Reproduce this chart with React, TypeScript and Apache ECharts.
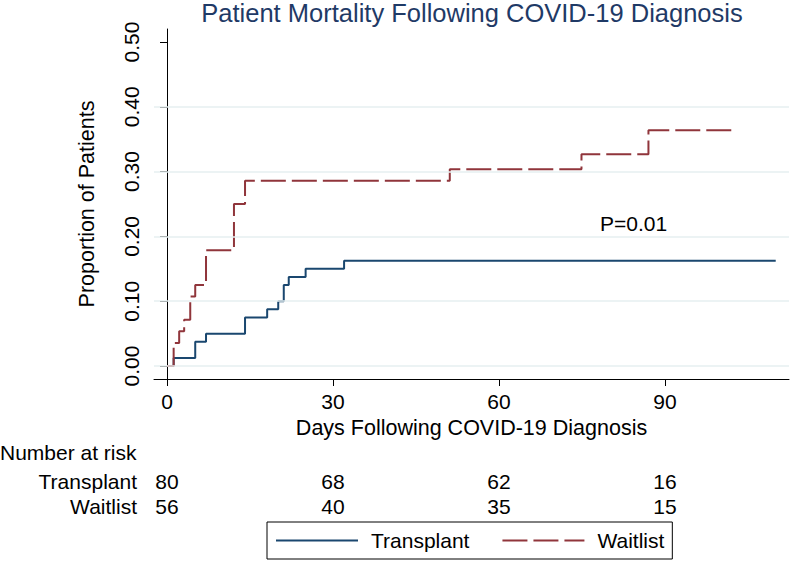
import React, { useEffect, useRef } from "react";
import * as echarts from "echarts";

const transplantDays = [0, 1.2, 5.1, 7.05, 14.1, 18.1, 20.1, 21.1, 22, 25.05, 32, 110];
const transplantProp = [0, 0.0125, 0.0375, 0.05, 0.075, 0.0875, 0.1, 0.125, 0.1375, 0.15, 0.1625, 0.1625];
const waitlistDays = [0, 1.2, 2.2, 3.1, 4.2, 5.1, 7.05, 12.1, 14.1, 51.1, 74.9, 87, 103];
const waitlistProp = [0, 0.0357, 0.0536, 0.0714, 0.1071, 0.125, 0.1786, 0.25, 0.2857, 0.3035, 0.3267, 0.3637, 0.3637];

const xTicks = [0, 30, 60, 90];
const yTicks = [0, 0.1, 0.2, 0.3, 0.4, 0.5];
const gridValues = [0, 0.1, 0.2, 0.3, 0.4];

const riskDays = [0, 30, 60, 90];
const riskGroups = ["Waitlist", "Transplant"];
const transplantRisk = [80, 68, 62, 16];
const waitlistRisk = [56, 40, 35, 15];

const FONT = "'Liberation Sans', Arial, Helvetica, sans-serif";
const BLUE = "#1a476f";
const RED = "#90353b";
const FS = 21;

export default function App() {
  const ref = useRef<HTMLDivElement>(null);
  useEffect(() => {
    if (!ref.current) return;
    const chart = echarts.init(ref.current, null, { renderer: "svg" });
    const xMin = -2.35;
    const xMax = 112.4;
    const riskLabel = {
      show: true,
      position: "inside",
      fontSize: FS,
      color: "#000",
      fontFamily: FONT,
      formatter: (p: any) => String(p.data.n),
    };
    chart.setOption({
      animation: false,
      backgroundColor: "#ffffff",
      textStyle: { fontFamily: FONT },
      title: {
        text: "Patient Mortality Following COVID-19 Diagnosis",
        left: 467,
        top: -5,
        textAlign: "center",
        textStyle: { fontSize: 25.5, fontWeight: "normal", color: "#1f3a66", fontFamily: FONT },
      },
      legend: {
        data: [
          { name: "Transplant", itemStyle: { opacity: 0 } },
          { name: "Waitlist", itemStyle: { opacity: 0 } },
        ],
        left: 267,
        top: 522,
        itemWidth: 82,
        itemHeight: 14,
        itemGap: 32,
        padding: [8, 8, 8, 8],
        borderColor: "#000",
        borderWidth: 1,
        itemStyle: { opacity: 0 },
        textStyle: { fontSize: FS, color: "#000", fontFamily: FONT, padding: [0, 0, 0, 8] },
      },
      grid: [
        { left: 154, right: 1, top: 29, height: 350 },
        { left: 154, right: 1, top: 468.5, height: 50 },
      ],
      xAxis: [
        {
          type: "value",
          gridIndex: 0,
          min: xMin,
          max: xMax,
          name: "Days Following COVID-19 Diagnosis",
          nameLocation: "middle",
          nameGap: 34,
          nameTextStyle: { fontSize: 21.5, color: "#000", fontFamily: FONT },
          axisLine: { show: true, onZero: false, lineStyle: { color: "#000", width: 1 } },
          axisTick: { show: true, length: 7, customValues: xTicks, lineStyle: { color: "#000" } },
          axisLabel: { customValues: xTicks, fontSize: FS, color: "#000", margin: 12, fontFamily: FONT },
          splitLine: { show: false },
        },
        {
          type: "value",
          gridIndex: 1,
          min: xMin,
          max: xMax,
          show: false,
        },
      ],
      yAxis: [
        {
          type: "value",
          gridIndex: 0,
          min: -0.02,
          max: 0.52,
          name: "Proportion of Patients",
          nameLocation: "middle",
          nameGap: 56,
          nameTextStyle: { fontSize: 21.5, color: "#000", fontFamily: FONT },
          axisLine: { show: true, lineStyle: { color: "#000", width: 1 } },
          axisTick: { show: true, length: 7, customValues: yTicks, lineStyle: { color: "#000" } },
          axisLabel: {
            customValues: yTicks,
            rotate: 90,
            fontSize: FS,
            color: "#000",
            margin: 12,
            fontFamily: FONT,
            formatter: (v: number) => v.toFixed(2),
          },
          splitLine: { show: false },
        },
        {
          type: "category",
          gridIndex: 1,
          data: riskGroups,
          axisLine: { show: false },
          axisTick: { show: false },
          axisLabel: { interval: 0, fontSize: FS, color: "#000", margin: 17, fontFamily: FONT },
          splitLine: { show: false },
        },
      ],
      graphic: [
        {
          type: "text",
          left: 0,
          top: 442,
          style: { text: "Number at risk", fontSize: FS, fill: "#000", fontFamily: FONT },
        },
        {
          type: "text",
          left: 600,
          top: 213,
          style: { text: "P=0.01", fontSize: FS, fill: "#000", fontFamily: FONT },
        },
      ],
      series: [
        {
          name: "grid",
          type: "line",
          data: [],
          z: 1,
          silent: true,
          markLine: {
            silent: true,
            symbol: "none",
            label: { show: false },
            lineStyle: { color: "#e6eff1", width: 1.5, type: "solid" },
            data: gridValues.map((v) => ({ yAxis: v })),
          },
        },
        {
          name: "Transplant",
          type: "line",
          step: "end",
          symbol: "none",
          z: 3,
          color: BLUE,
          lineStyle: { color: BLUE, width: 2 },
          data: transplantDays.map((d, i) => [d, transplantProp[i]]),
        },
        {
          name: "Waitlist",
          type: "line",
          step: "end",
          symbol: "none",
          z: 4,
          color: RED,
          lineStyle: { color: RED, width: 2, type: [25, 6] },
          data: waitlistDays.map((d, i) => [d, waitlistProp[i]]),
        },
        {
          name: "riskT",
          type: "scatter",
          xAxisIndex: 1,
          yAxisIndex: 1,
          symbolSize: 0,
          silent: true,
          itemStyle: { opacity: 1 },
          label: riskLabel,
          data: transplantRisk.map((n, i) => ({ value: [riskDays[i], "Transplant"], n })),
        },
        {
          name: "riskW",
          type: "scatter",
          xAxisIndex: 1,
          yAxisIndex: 1,
          symbolSize: 0,
          silent: true,
          itemStyle: { opacity: 1 },
          label: riskLabel,
          data: waitlistRisk.map((n, i) => ({ value: [riskDays[i], "Waitlist"], n })),
        },
      ],
    });
    return () => chart.dispose();
  }, []);
  return (
    <div
      ref={ref}
      style={{ position: "fixed", left: 0, top: 0, width: 790, height: 562, background: "#fff" }}
    />
  );
}
